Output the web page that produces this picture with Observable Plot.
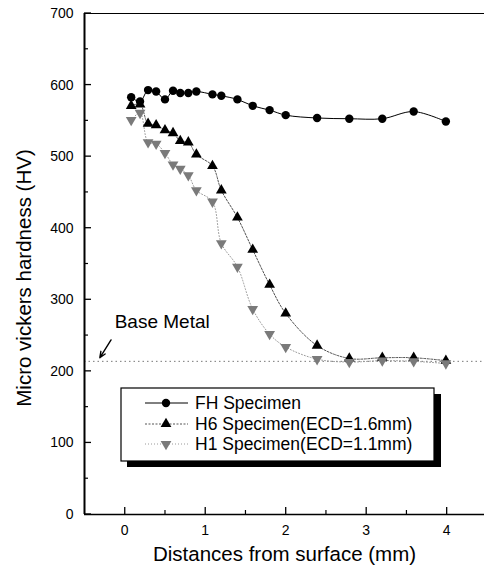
<!DOCTYPE html>
<html>
<head>
<meta charset="utf-8">
<script src="https://cdn.jsdelivr.net/npm/d3@7"></script>
<script src="https://cdn.jsdelivr.net/npm/@observablehq/plot@0.6"></script>
<style>
  html, body { margin: 0; padding: 0; background: #fff; }
  #chart { width: 484px; height: 575px; }
</style>
</head>
<body>
<div id="chart"></div>
<script>
// ---- data ----
const distances = [0.08, 0.19, 0.29, 0.39, 0.5, 0.6, 0.69, 0.79, 0.89, 1.09, 1.2, 1.4, 1.59, 1.8, 2.0, 2.39, 2.79, 3.2, 3.59, 3.99];
const fhHardness = [583, 577, 593, 591, 580, 592, 589, 589, 591, 587, 585, 580, 571, 565, 558, 554, 553, 553, 563, 549];
const h6Hardness = [571, 573, 546, 544, 537, 533, 522, 520, 503, 487, 453, 415, 370, 321, 281, 236, 218, 219, 219, 215];
const h1Hardness = [551, 561, 520, 518, 505, 489, 483, 474, 453, 437, 379, 346, 287, 252, 234, 217, 213, 215, 214, 211];
const seriesNames = ["FH Specimen", "H6 Specimen(ECD=1.6mm)", "H1 Specimen(ECD=1.1mm)"];
const baseMetal = 214;
const baseMetalLabel = "Base Metal";
const xTicks = [0, 1, 2, 3, 4];
const xMinorTicks = [0.5, 1.5, 2.5, 3.5];
const yTicks = [0, 100, 200, 300, 400, 500, 600, 700];
const yMinorTicks = [50, 150, 250, 350, 450, 550, 650];
const xTitle = "Distances from surface (mm)";
const yTitle = "Micro vickers hardness (HV)";

// ---- tables ----
const fh = distances.map((d, i) => ({x: d, y: fhHardness[i]}));
const h6 = distances.map((d, i) => ({x: d, y: h6Hardness[i]}));
const h1 = distances.map((d, i) => ({x: d, y: h1Hardness[i]}));

const sqrt3 = Math.sqrt(3);
const triangleDown = {
  draw(context, size) {
    const y = Math.sqrt(size / (sqrt3 * 3));
    context.moveTo(0, y * 2);
    context.lineTo(-sqrt3 * y, -y);
    context.lineTo(sqrt3 * y, -y);
    context.closePath();
  }
};

const font = "Liberation Sans, Arial, Helvetica, sans-serif";
const W = 484, H = 575, ML = 84, MR = 0, MT = 13, MB = 61;
const xDomain = [-0.5, 4.47], yDomain = [0, 700];
const innerH = H - MT - MB;
const yPerPx = (yDomain[1] - yDomain[0]) / innerH;

const plot = Plot.plot({
  width: W,
  height: H,
  marginLeft: ML,
  marginRight: MR,
  marginTop: MT,
  marginBottom: MB,
  style: {fontFamily: font, fontSize: "14px", color: "#000", background: "#fff", overflow: "visible"},
  x: {domain: xDomain},
  y: {domain: yDomain},
  marks: [
    Plot.ruleY([baseMetal], {stroke: "#777", strokeWidth: 1, strokeDasharray: "1.5,3"}),
    // inward x ticks
    Plot.ruleX(xTicks, {x: d => d, y1: yDomain[0], y2: yDomain[0] + 7 * yPerPx, stroke: "#000", strokeWidth: 1.3}),
    Plot.ruleX(xMinorTicks, {x: d => d, y1: yDomain[0], y2: yDomain[0] + 4 * yPerPx, stroke: "#000", strokeWidth: 1.2}),
    // frame lines
    Plot.ruleX([xDomain[0]], {stroke: "#000", strokeWidth: 2}),
    Plot.ruleY([yDomain[0]], {stroke: "#000", strokeWidth: 1.5}),
    Plot.ruleY([yDomain[1]], {stroke: "#000", strokeWidth: 1}),
    // tick labels
    Plot.axisY({ticks: yTicks, tickSize: 0, tickPadding: 11, fontSize: 14, label: null, tickFormat: d => String(d)}),
    Plot.axisX({ticks: xTicks, tickSize: 0, tickPadding: 11, fontSize: 14, label: null, tickFormat: d => String(d)}),
    // titles
    Plot.text([yTitle], {frameAnchor: "left", textAnchor: "middle", dx: -60, dy: 14, rotate: -90, fontSize: 20.5, fill: "#000"}),
    Plot.text([xTitle], {frameAnchor: "bottom", dy: 46, fontSize: 20.5, fill: "#000"}),
    // series
    Plot.line(h1, {x: "x", y: "y", curve: "catmull-rom", stroke: "#9a9a9a", strokeWidth: 1, strokeDasharray: "1,2"}),
    Plot.line(h6, {x: "x", y: "y", curve: "catmull-rom", stroke: "#555", strokeWidth: 1, strokeDasharray: "2,1.5"}),
    Plot.line(fh, {x: "x", y: "y", curve: "catmull-rom", stroke: "#000", strokeWidth: 1}),
    Plot.dot(fh, {x: "x", y: "y", r: 4.2, symbol: "circle", fill: "#000", stroke: "none"}),
    Plot.dot(h6, {x: "x", y: "y", r: 4, symbol: "triangle", fill: "#000", stroke: "none"}),
    Plot.dot(h1, {x: "x", y: "y", r: 4, symbol: triangleDown, fill: "#7a7a7a", stroke: "none"}),
    // base metal annotation
    Plot.text([baseMetalLabel], {x: -0.125, y: 269, textAnchor: "start", fontSize: 19, fill: "#000"}),
    Plot.arrow([{x1: -0.17, y1: 244, x2: -0.31, y2: 219}], {x1: "x1", y1: "y1", x2: "x2", y2: "y2", stroke: "#000", strokeWidth: 1.4, headLength: 7, headAngle: 45})
  ]
});

const svg = d3.select(plot);

// inward y ticks, positioned with the plot's own scales
const sx = plot.scale("x"), sy = plot.scale("y");
const x0 = sx.apply(xDomain[0]);
const yt = svg.append("g").attr("class", "y-ticks").attr("stroke", "#000");
for (const v of yTicks) {
  yt.append("line").attr("x1", x0).attr("x2", x0 + 7).attr("y1", sy.apply(v)).attr("y2", sy.apply(v)).attr("stroke-width", 1.3);
}
for (const v of yMinorTicks) {
  yt.append("line").attr("x1", x0).attr("x2", x0 + 4).attr("y1", sy.apply(v)).attr("y2", sy.apply(v)).attr("stroke-width", 1.2);
}

// legend (box with drop shadow)
const lg = svg.append("g").attr("class", "legend").attr("text-anchor", "start");
lg.append("rect").attr("x", 127).attr("y", 394).attr("width", 314).attr("height", 73).attr("fill", "#000");
lg.append("rect").attr("x", 121).attr("y", 388).attr("width", 313).attr("height", 73).attr("fill", "#fff").attr("stroke", "#000").attr("stroke-width", 1.2);
const legendRows = [
  {name: seriesNames[0], y: 403, stroke: "#000", dash: null, symbol: d3.symbolCircle, fill: "#000", size: Math.PI * 4.2 * 4.2},
  {name: seriesNames[1], y: 424, stroke: "#555", dash: "2,1.5", symbol: d3.symbolTriangle, fill: "#000", size: Math.PI * 16},
  {name: seriesNames[2], y: 444, stroke: "#9a9a9a", dash: "1,2", symbol: triangleDown, fill: "#7a7a7a", size: Math.PI * 16}
];
for (const r of legendRows) {
  lg.append("line").attr("x1", 145).attr("x2", 188).attr("y1", r.y).attr("y2", r.y)
    .attr("stroke", r.stroke).attr("stroke-width", 1).attr("stroke-dasharray", r.dash);
  lg.append("path").attr("transform", `translate(166,${r.y})`).attr("d", d3.symbol(r.symbol, r.size)()).attr("fill", r.fill);
  lg.append("text").attr("x", 195).attr("y", r.y).attr("dy", "0.35em").attr("text-anchor", "start")
    .attr("font-family", font).attr("font-size", 17.5).attr("fill", "#000").text(r.name);
}

document.getElementById("chart").appendChild(plot);
</script>
</body>
</html>
